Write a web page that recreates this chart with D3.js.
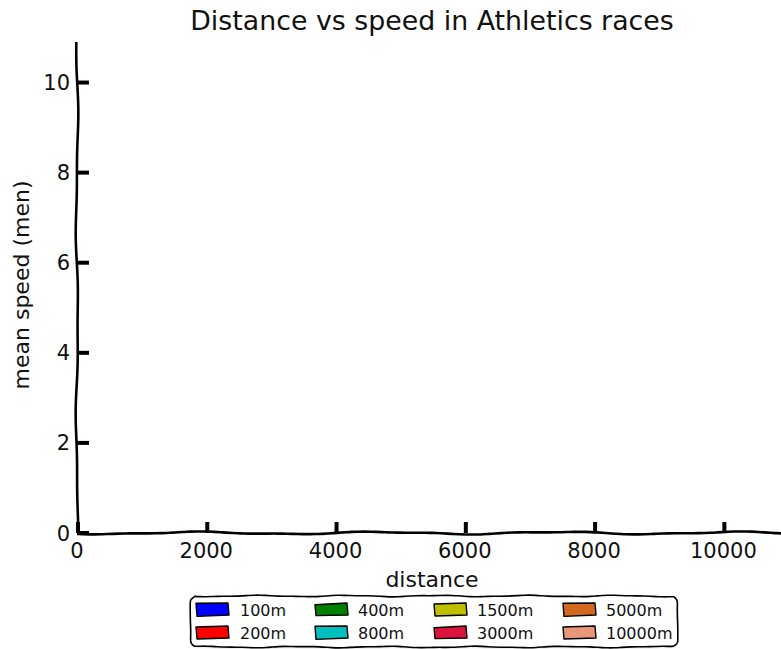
<!DOCTYPE html>
<html><head><meta charset="utf-8">
<script src="https://cdn.jsdelivr.net/npm/d3@7"></script>
<style>
html,body{margin:0;padding:0;background:#fff;}
svg{display:block;font-family:"DejaVu Sans",sans-serif;}
</style></head>
<body>
<svg id="chart" width="781" height="649"></svg>
<script>
// ---- data ----
const title = "Distance vs speed in Athletics races";
const xLabel = "distance";
const yLabel = "mean speed (men)";
const categories = ["100m","200m","400m","800m","1500m","3000m","5000m","10000m"];
const colors = ["#0000ff","#ff0000","#008000","#00bfbf","#bfbf00","#dc143c","#d2691e","#e9967a"];
const xTicks = [0,2000,4000,6000,8000,10000];
const yTicks = [0,2,4,6,8,10];

const svg = d3.select("#chart");
const x = d3.scaleLinear().domain([0,11000]).range([77,788]);
const y = d3.scaleLinear().domain([0,10.9]).range([533,42]);

// deterministic hand-drawn wiggle
function wiggle(pts, amp, wl, phase){
  const out=[];
  for(let i=0;i<pts.length-1;i++){
    const [x0,y0]=pts[i],[x1,y1]=pts[i+1];
    const L=Math.hypot(x1-x0,y1-y0), n=Math.max(2,Math.ceil(L/6));
    const nx=-(y1-y0)/L, ny=(x1-x0)/L;
    for(let k=0;k<=n;k++){
      if(i>0&&k===0) continue;
      const t=k/n, s=t*L;
      const w=amp*(Math.sin(s/wl*2*Math.PI+phase)*0.7+Math.sin(s/(wl*0.43)*2*Math.PI+phase*1.7)*0.3);
      out.push([x0+(x1-x0)*t+nx*w, y0+(y1-y0)*t+ny*w]);
    }
  }
  return d3.line().curve(d3.curveBasis)(out);
}

// axes
svg.append("path").attr("d",wiggle([[77,533],[800,533]],1.6,180,0.5))
  .attr("fill","none").attr("stroke","#000").attr("stroke-width",2.6);
svg.append("path").attr("d",wiggle([[77,533],[77,42]],1.4,200,1.2))
  .attr("fill","none").attr("stroke","#000").attr("stroke-width",2.6);

// ticks
const g=svg.append("g");
xTicks.forEach(v=>{
  g.append("line").attr("x1",x(v)+1).attr("x2",x(v)+1).attr("y1",533).attr("y2",522)
   .attr("stroke","#000").attr("stroke-width",4);
  g.append("text").attr("x",x(v)).attr("y",558).attr("text-anchor","middle")
   .attr("font-size",21).attr("fill","#111").text(v);
});
yTicks.forEach(v=>{
  g.append("line").attr("x1",77).attr("x2",89).attr("y1",y(v)).attr("y2",y(v))
   .attr("stroke","#000").attr("stroke-width",4);
  g.append("text").attr("x",70).attr("y",y(v)).attr("dy","0.36em").attr("text-anchor","end")
   .attr("font-size",21).attr("fill","#111").text(v);
});

// labels
svg.append("text").attr("x",432).attr("y",30).attr("text-anchor","middle")
  .attr("font-size",26.8).attr("fill","#111").text(title);
svg.append("text").attr("x",432).attr("y",587).attr("text-anchor","middle")
  .attr("font-size",22).attr("fill","#111").text(xLabel);
svg.append("text").attr("transform","translate(29,285) rotate(-90)").attr("text-anchor","middle")
  .attr("font-size",22).attr("fill","#111").text(yLabel);

// legend
const lg=svg.append("g");
const bx0=190,by0=596,bx1=678,by1=647,r=4;
lg.append("path").attr("d",wiggle([[bx0+r,by0+2],[bx1-r,by0+2],[bx1+1,by0+r+2],[bx1+1,by1-r+2],[bx1-r,by1+2],[bx0+r,by1+2],[bx0+1,by1-r+2],[bx0+1,by0+r+2],[bx0+r,by0+2]],0.9,90,0.3))
  .attr("fill","#e6e6e6").attr("stroke","none").attr("opacity",0.7);
lg.append("path").attr("d",wiggle([[bx0+r,by0],[bx1-r,by0],[bx1,by0+r],[bx1,by1-r],[bx1-r,by1],[bx0+r,by1],[bx0,by1-r],[bx0,by0+r],[bx0+r,by0]],0.9,90,0.3))
  .attr("fill","#fff").attr("stroke","#000").attr("stroke-width",1.6);
const colX=[196,315,434,563], textX=[240,358,477,606], rowY=[603,626];
categories.forEach((c,i)=>{
  const col=Math.floor(i/2), row=i%2;
  const px=colX[col], py=rowY[row];
  const sk=(i%3-1)*0.8;
  lg.append("path").attr("d",`M${px},${py+1+sk} L${px+32},${py} L${px+33},${py+12} L${px+1},${py+13-sk*0.5} Z`)
    .attr("fill",colors[i]).attr("stroke","#000").attr("stroke-width",1.4).attr("stroke-linejoin","round");
  lg.append("text").attr("x",textX[col]).attr("y",py+7).attr("dy","0.36em")
    .attr("font-size",16).attr("fill","#111").text(c);
});
</script>
</body></html>
